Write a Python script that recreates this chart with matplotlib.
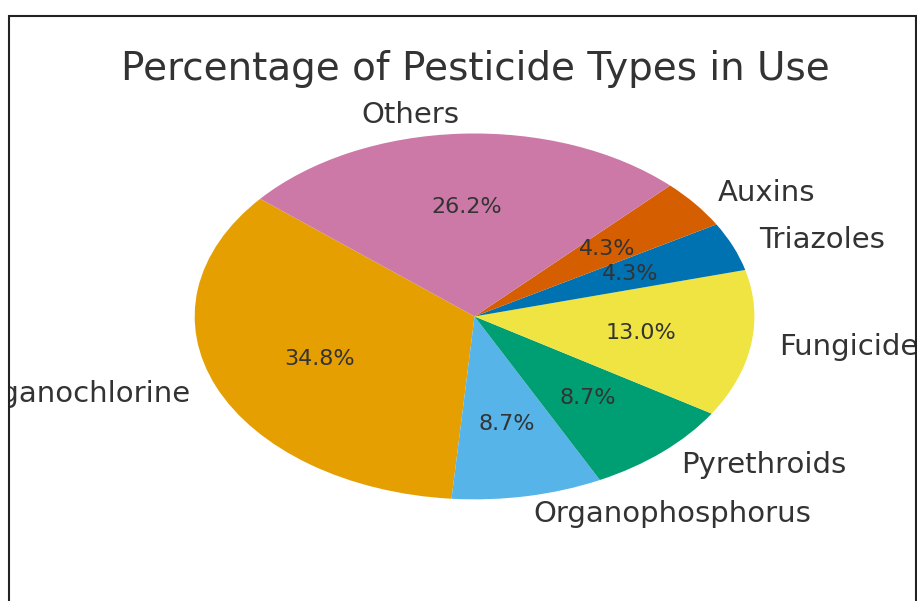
import matplotlib.pyplot as plt
from matplotlib.patches import Rectangle

# data
labels = ['Organochlorine', 'Organophosphorus', 'Pyrethroids', 'Fungicides',
          'Triazoles', 'Auxins', 'Others']
shares = [34.8, 8.7, 8.7, 13.0, 4.3, 4.3, 26.2]
colors = ['#E69F00', '#56B4E9', '#009E73', '#F0E442', '#0072B2', '#D55E00', '#CC79A7']

txt = '#333333'

fig = plt.figure(figsize=(9.17, 6.01), dpi=100)
ax = fig.add_axes([0.136, 0.093, 0.763, 0.761])

wedges, texts, autotexts = ax.pie(shares, labels=labels, colors=colors,
                                  autopct='%1.1f%%', startangle=140,
                                  textprops={'color': txt})
ax.set_aspect('auto')
ax.set_xlim(-1.25, 1.25)
ax.set_ylim(-1.25, 1.25)

for t in texts:
    t.set_fontsize(21)
for t in autotexts:
    t.set_fontsize(16)

fig.text(0.518, 0.886, 'Percentage of Pesticide Types in Use', ha='center', va='center',
         fontsize=28, color=txt)

# white margin outside the frame, then the frame itself
fig.patches.append(Rectangle((0, 0), 8.5 / 917, 1, transform=fig.transFigure,
                             facecolor='white', edgecolor='none', zorder=10))
fig.patches.append(Rectangle((0, 1 - 16 / 601), 1, 16 / 601, transform=fig.transFigure,
                             facecolor='white', edgecolor='none', zorder=10))
fig.patches.append(Rectangle((8.5 / 917, -0.01), (916 - 8.5) / 917, 1 - 16 / 601 + 0.01,
                             transform=fig.transFigure, facecolor='none',
                             edgecolor='#222222', linewidth=1.5, zorder=11))

plt.savefig('out.png', dpi=100)
